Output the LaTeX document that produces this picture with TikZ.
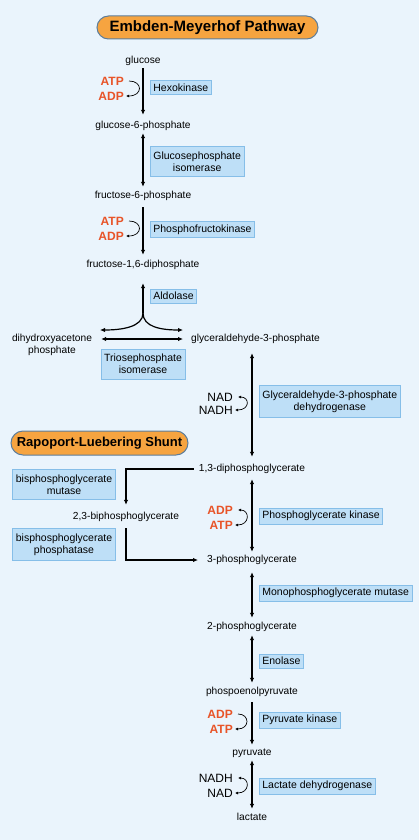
\documentclass[tikz,border=0pt]{standalone}
\usepackage{fontspec}
\setmainfont{Liberation Sans}
\usetikzlibrary{
    arrows.meta,
    positioning
}
\definecolor{bgblue}{RGB}{234,244,252}
\definecolor{boxblue}{RGB}{190,223,247}
\definecolor{boxline}{RGB}{134,190,232}
\definecolor{pillorange}{RGB}{246,164,64}
\definecolor{pillline}{RGB}{92,125,155}
\definecolor{energyred}{RGB}{232,84,40}
\tikzset{
    metab/.style={inner sep=2pt, text height=7.5pt, text depth=2.5pt, font=\fontsize{10.2}{12}\selectfont},
    metabtwo/.style={inner sep=2pt, align=center, font=\fontsize{10.2}{12}\selectfont},
    enzyme/.style={draw=boxline, fill=boxblue, line width=0.8pt, inner xsep=3pt, inner ysep=3.2pt, align=center, font=\fontsize{10.5}{12}\selectfont},
    enzymetwo/.style={enzyme, inner ysep=5.2pt},
    pill/.style={draw=pillline, fill=pillorange, line width=1pt, inner sep=0pt, font=\bfseries},
    energy/.style={anchor=east, inner sep=2pt, text=energyred, font=\bfseries\fontsize{12}{14}\selectfont},
    cofac/.style={anchor=east, inner sep=2pt, font=\fontsize{12}{14}\selectfont},
    conv/.style={line width=1.2pt, -{Latex[length=5pt,width=4.5pt]}, shorten <=1pt, shorten >=2pt},
    rev/.style={line width=1.2pt, {Latex[length=5pt,width=4.5pt]}-{Latex[length=5pt,width=4.5pt]}, shorten <=1pt, shorten >=2pt},
    sidecurve/.style={line width=0.7pt, -{Latex[length=3pt,width=3pt]}, shorten <=3pt},
    sidecurverev/.style={line width=0.7pt, {Latex[length=3pt,width=3pt]}-{Latex[length=3pt,width=3pt]}, shorten <=3pt}
}
\begin{document}
\begin{tikzpicture}[x=1pt, y=-1pt]
    \useasboundingbox[fill=bgblue] (0,0) rectangle (419,840);

    \node[pill, minimum width=221pt, minimum height=23pt, rounded corners=11.5pt, font=\bfseries\fontsize{15}{18}\selectfont] (emtitle) at (207.5,27.5) {Embden-Meyerhof Pathway};

    \node[metab] (glc) at (143,61) {glucose};
    \node[metab] (g6p) at (143,126) {glucose-6-phosphate};
    \node[metab] (f6p) at (143,196) {fructose-6-phosphate};
    \node[metab] (f16bp) at (143,265) {fructose-1,6-diphosphate};
    \coordinate (split) at (143,313);
    \coordinate (dhapin) at (100,330);
    \coordinate (gapin) at (183,330);
    \node[metabtwo] (dhap) at (52,345) {dihydroxyacetone\\phosphate};
    \node[metab, anchor=west] (gap) at (189,339) {glyceraldehyde-3-phosphate};
    \node[metab] (dpg13) at (252,469) {1,3-diphosphoglycerate};
    \node[metab] (bpg23) at (126,517) {2,3-biphosphoglycerate};
    \node[metab] (pg3) at (252,560) {3-phosphoglycerate};
    \node[metab] (pg2) at (252,627) {2-phosphoglycerate};
    \node[metab] (pep) at (252,692) {phospoenolpyruvate};
    \node[metab] (pyr) at (252,753) {pyruvate};
    \node[metab] (lac) at (252,818) {lactate};

    \node[enzyme, anchor=west] (hexo) at (150,87.5) {Hexokinase};
    \node[enzymetwo, anchor=west] (gpi) at (150,161.5) {Glucosephosphate\\isomerase};
    \node[enzyme, anchor=west] (pfk) at (150,229.5) {Phosphofructokinase};
    \node[enzyme, anchor=west] (aldo) at (150,296) {Aldolase};
    \node[enzymetwo] (tpi) at (143,364) {Triosephosphate\\isomerase};
    \node[enzymetwo, anchor=west] (gapdh) at (259,401.5) {Glyceraldehyde-3-phosphate\\dehydrogenase};
    \node[enzyme, anchor=west] (pgk) at (259,516) {Phosphoglycerate kinase};
    \node[enzyme, anchor=west] (pgm) at (259,593) {Monophosphoglycerate mutase};
    \node[enzyme, anchor=west] (eno) at (259,661) {Enolase};
    \node[enzyme, anchor=west] (pk) at (259,720) {Pyruvate kinase};
    \node[enzyme, anchor=west] (ldh) at (259,786) {Lactate dehydrogenase};

    \node[pill, minimum width=177pt, minimum height=24pt, rounded corners=12pt, font=\bfseries\fontsize{13}{16}\selectfont] (rltitle) at (99.5,443) {Rapoport-Luebering Shunt};
    \node[enzymetwo] (bpgm) at (64,484.5) {bisphosphoglycerate\\mutase};
    \node[enzymetwo] (bpgp) at (64,544.5) {bisphosphoglycerate\\phosphatase};

    \node[energy] (atpa) at (126,81) {ATP};
    \node[energy] (adpa) at (126,96) {ADP};
    \node[energy] (atpb) at (126,221) {ATP};
    \node[energy] (adpb) at (126,236) {ADP};
    \node[cofac] (nada) at (235,397) {NAD};
    \node[cofac] (nadha) at (235,410) {NADH};
    \node[energy] (adpc) at (235,510) {ADP};
    \node[energy] (atpc) at (235,525) {ATP};
    \node[energy] (adpd) at (235,714) {ADP};
    \node[energy] (atpd) at (235,729) {ATP};
    \node[cofac] (nadhb) at (235,778) {NADH};
    \node[cofac] (nadb) at (235,793) {NAD};

    \draw[conv, shorten <=0pt, shorten >=4pt] (glc) -- (g6p);
    \draw[rev, shorten <=0pt] (g6p) -- (f6p);
    \draw[conv, shorten <=4pt, shorten >=3pt] (f6p) -- (f16bp);
    \draw[conv, shorten <=0pt, shorten >=11pt] (split) -- (f16bp);
    \draw[conv, shorten <=0pt, shorten >=0pt] (split) .. controls +(0,14) and +(22,0) .. (dhapin);
    \draw[conv, shorten <=0pt, shorten >=0pt] (split) .. controls +(0,14) and +(-22,0) .. (gapin);
    \draw[rev, shorten <=7pt, shorten >=6pt] (gap.west -| dhap.east) -- (gap.west);
    \draw[rev, shorten <=7pt, shorten >=5pt] (dpg13.north |- gap.south) -- (dpg13.north);
    \draw[conv, shorten <=3pt, shorten >=5pt] (dpg13.west) -| (bpg23.north);
    \draw[conv, shorten <=4pt, shorten >=7pt] (bpg23.south) |- (pg3.west);
    \draw[rev, shorten <=3pt, shorten >=1pt] (dpg13) -- (pg3);
    \draw[rev, shorten <=5pt] (pg3) -- (pg2);
    \draw[rev] (pg2) -- (pep);
    \draw[conv, shorten <=3pt, shorten >=1pt] (pep) -- (pyr);
    \draw[rev, shorten <=0pt] (pyr) -- (lac);

    \draw[sidecurve] (atpa.east) .. controls +(17,0) and +(17,0) .. (adpa.east);
    \draw[sidecurve] (atpb.east) .. controls +(17,0) and +(17,0) .. (adpb.east);
    \draw[sidecurverev] (nada.east) .. controls +(15,0) and +(15,0) .. (nadha.east);
    \draw[sidecurverev] (adpc.east) .. controls +(15,0) and +(15,0) .. (atpc.east);
    \draw[sidecurve] (adpd.east) .. controls +(15,0) and +(15,0) .. (atpd.east);
    \draw[sidecurverev] (nadhb.east) .. controls +(15,0) and +(15,0) .. (nadb.east);
\end{tikzpicture}
\end{document}
